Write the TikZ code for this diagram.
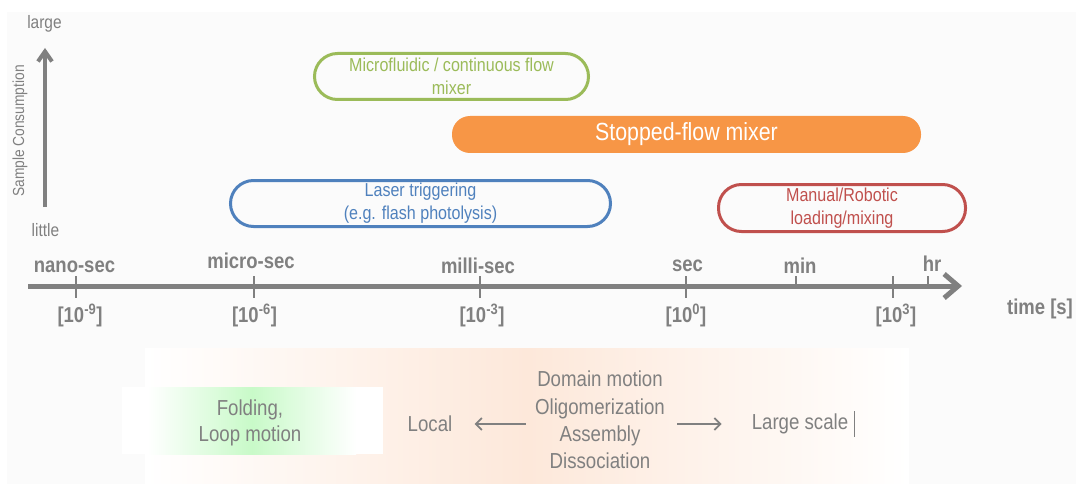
\documentclass[tikz,border=0pt]{standalone}
\usepackage{xcolor}
\usepackage{fontspec}
\setmainfont{Liberation Sans}[FakeStretch=0.86]
\usetikzlibrary{arrows.meta, positioning, calc}

\definecolor{txtgray}{HTML}{808080}
\definecolor{mixgreen}{HTML}{9BBB59}
\definecolor{mixorange}{HTML}{F79646}
\definecolor{lasblue}{HTML}{4F81BD}
\definecolor{manred}{HTML}{C0504D}
\definecolor{panelgray}{HTML}{FBFBFB}
\definecolor{peach}{HTML}{FDE8DA}
\definecolor{softgreen}{HTML}{C8FAC8}

\tikzset{
    method/.style={rounded corners=23pt, line width=3pt, minimum height=46pt,
        inner sep=0pt, align=center, font=\fontsize{18.7}{23}\selectfont},
    scalelbl/.style={text=txtgray, font=\bfseries\fontsize{21.5}{24}\selectfont,
        inner sep=0pt, anchor=base},
    tickline/.style={txtgray, line width=1.3pt},
    motion/.style={text=txtgray, font=\fontsize{21.7}{27.3}\selectfont,
        align=center, inner sep=0pt},
    smallarrow/.style={txtgray, line width=1.8pt, -{Straight Barb[length=6pt, width=12pt]}}
}

\begin{document}
\begin{tikzpicture}[x=1pt, y=-1pt]
\useasboundingbox (0,0) rectangle (1076,484);
% backgrounds
\fill[white] (0,0) rectangle (1076,484);
\fill[panelgray] (7,12) rectangle (1076,484);
\shade[left color=white, right color=white, middle color=peach] (145,348) rectangle (909,484);
\fill[white] (122,387) rectangle (383,454);
\shade[left color=white, right color=white, middle color=softgreen] (148,387) rectangle (356,454);

% Sample consumption axis
\coordinate (cbot) at (45,207);
\coordinate (ctop) at (45,48);
\draw[txtgray, line width=4pt, -{Straight Barb[length=10pt, width=14pt]}] (cbot) -- (ctop);
\node[text=txtgray, font=\fontsize{18}{20}\selectfont, inner sep=0pt, anchor=base] (large) at (44.5,28.5) {large};
\node[text=txtgray, font=\fontsize{18}{20}\selectfont, inner sep=0pt, anchor=base] (little) at (45.5,236) {little};
\node[text=txtgray, font=\fontsize{16}{20}\selectfont, inner sep=0pt, rotate=90] (samplecons) at (20,131) {Sample Consumption};

% Methods
\node[method, draw=mixgreen, text=mixgreen, minimum width=274pt] (microfl) at (451.5,76.5) {Microfluidic / continuous flow\\mixer};
\node[method, fill=mixorange, text=white, minimum width=469pt, minimum height=37pt,
    rounded corners=18pt, font=\fontsize{24.8}{28}\selectfont] (stopped) at (686.5,134.5) {Stopped-flow mixer};
\node[method, draw=lasblue, text=lasblue, minimum width=380pt] (laser) at (420.5,203.5) {Laser triggering\\(e.g. flash photolysis)};
\node[method, draw=manred, text=manred, minimum width=247pt, minimum height=47pt] (manual) at (842,208) {Manual/Robotic\\loading/mixing};

% Time axis
\coordinate (tstart) at (28,286);
\coordinate (tend) at (962,286);
\draw[txtgray, line width=5pt, -{Straight Barb[length=14pt, width=24pt]}] (tstart) -- (tend);
\draw[tickline] (76,276) -- (76,298);
\draw[tickline] (254,276) -- (254,298);
\draw[tickline] (480,276) -- (480,298);
\draw[tickline] (686,276) -- (686,298);
\draw[tickline] (796,276) -- (796,286);
\draw[tickline] (893,276) -- (893,298);
\draw[tickline] (928,276) -- (928,286);

\node[scalelbl] (nano) at (74.5,272) {nano-sec};
\node[scalelbl] (microsec) at (251,268) {micro-sec};
\node[scalelbl] (millisec) at (478,273) {milli-sec};
\node[scalelbl] (sec) at (687.5,271) {sec};
\node[scalelbl] (min) at (800,273) {min};
\node[scalelbl] (hr) at (932,271) {hr};

\node[scalelbl] (enine) at (80,322) {[10\textsuperscript{-9}]};
\node[scalelbl] (esix) at (254.5,322) {[10\textsuperscript{-6}]};
\node[scalelbl] (ethree) at (482,322) {[10\textsuperscript{-3}]};
\node[scalelbl] (ezero) at (686,322) {[10\textsuperscript{0}]};
\node[scalelbl] (ethou) at (896,322) {[10\textsuperscript{3}]};
\node[scalelbl] (time) at (1040,314) {time [s]};

% Motions
\node[motion] (motions) at (600,420) {Domain motion\\Oligomerization\\Assembly\\Dissociation};
\node[motion] (local) at (430,424) {Local};
\node[motion] (largescale) at (800,424) {Large scale};
\node[motion, font=\fontsize{21.7}{26}\selectfont] (folding) at (250,423) {Folding,\\Loop motion};
\draw[smallarrow, shorten <=9pt, shorten >=22pt] (motions.west |- local.east) -- (local.east);
\draw[smallarrow, shorten <=12pt, shorten >=30pt] (motions.east |- largescale.west) -- (largescale.west);
\draw[txtgray, line width=0.8pt] ([xshift=6pt, yshift=13pt]largescale.east) -- ([xshift=6pt, yshift=-13pt]largescale.east);
\end{tikzpicture}
\end{document}
